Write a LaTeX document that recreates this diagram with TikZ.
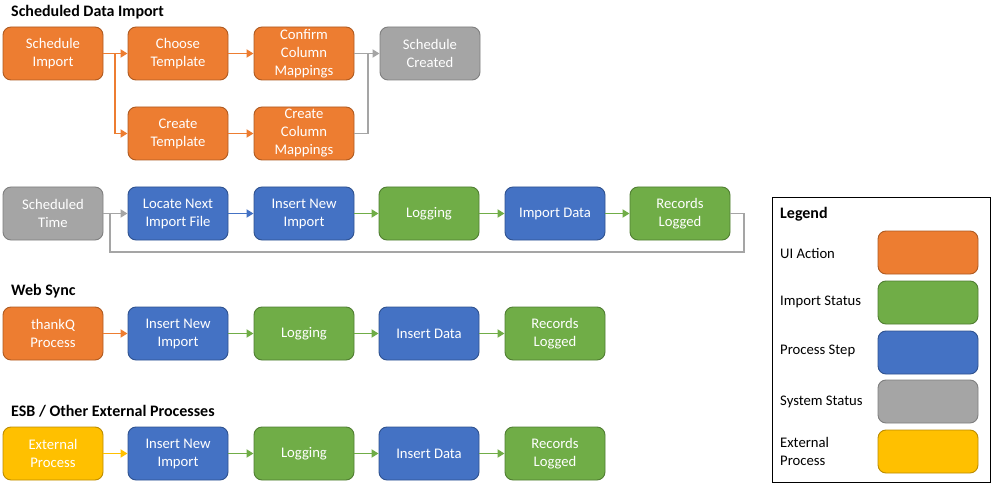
\documentclass[tikz,border=0pt]{standalone}
\usepackage{fontspec}
\setmainfont{Carlito}
\usetikzlibrary{arrows.meta}
\definecolor{uiO}{HTML}{ED7D31}
\definecolor{uiOb}{HTML}{AE5A21}
\definecolor{stG}{HTML}{70AD47}
\definecolor{stGb}{HTML}{507E32}
\definecolor{prB}{HTML}{4472C4}
\definecolor{prBb}{HTML}{2F528F}
\definecolor{syS}{HTML}{A5A5A5}
\definecolor{sySb}{HTML}{7F7F7F}
\definecolor{exY}{HTML}{FFC000}
\definecolor{exYb}{HTML}{BC8C00}
\begin{document}
\begin{tikzpicture}[x=1pt,y=-1pt,
  box/.style={rounded corners=8pt, minimum width=100pt, minimum height=53pt, inner sep=0pt,
    align=center, text=white, line width=0.9pt,
    font=\fontsize{14.67}{18}\selectfont},
  uibox/.style={box, fill=uiO, draw=uiOb},
  stbox/.style={box, fill=stG, draw=stGb},
  prbox/.style={box, fill=prB, draw=prBb},
  sybox/.style={box, fill=syS, draw=sySb},
  exbox/.style={box, fill=exY, draw=exYb},
  swatch/.style={minimum height=43pt},
  conn/.style={line width=1.8pt, -{Triangle[length=7pt,width=8pt]}},
  plain/.style={line width=1.8pt},
  ttl/.style={anchor=west, inner sep=0pt, font=\fontsize{16}{19}\selectfont\bfseries},
  lab/.style={anchor=west, inner sep=0pt, align=left, font=\fontsize{14.67}{18}\selectfont}]
\useasboundingbox (0,0) rectangle (994,484);

% Section 1
\node[ttl] (t1) at (11,12) {Scheduled Data Import};
\node[uibox] (si) at (53,53.5) {Schedule\\Import};
\node[uibox] (ct) at (178,53.5) {Choose\\Template};
\node[uibox] (cm) at (304,53.5) {Confirm\\Column\\Mappings};
\node[sybox] (sc) at (430,53.5) {Schedule\\Created};
\node[uibox] (crt) at (178,133.5) {Create\\Template};
\node[uibox] (ccm) at (304,133.5) {Create\\Column\\Mappings};
\coordinate (j1) at (115,53.5);
\coordinate (j2) at (368,53.5);
\draw[conn, uiO] (si.east) -- (ct.west);
\draw[conn, uiO] (j1) |- (crt.west);
\draw[conn, uiO] (ct.east) -- (cm.west);
\draw[conn, uiO] (crt.east) -- (ccm.west);
\draw[conn, syS] (cm.east) -- (sc.west);
\draw[plain, syS] (ccm.east) -| (j2);

% Section 2
\node[sybox] (st) at (53,213.5) {Scheduled\\Time};
\node[prbox] (ln) at (178,213.5) {Locate Next\\Import File};
\node[prbox] (ini) at (304,213.5) {Insert New\\Import};
\node[stbox] (lg) at (429,213.5) {Logging};
\node[prbox] (id) at (555,213.5) {Import Data};
\node[stbox] (rl) at (680,213.5) {Records\\Logged};
\coordinate (lr) at (744,252);
\coordinate (ll) at (110,252);
\draw[conn, syS] (st.east) -- (ln.west);
\draw[conn, prB] (ln.east) -- (ini.west);
\draw[conn, stG] (ini.east) -- (lg.west);
\draw[conn, stG] (lg.east) -- (id.west);
\draw[conn, stG] (id.east) -- (rl.west);
\draw[plain, syS] (rl.east) -| (lr) -- (ll) -- (110,213.5);

% Section 3
\node[ttl] (t3) at (11,291) {Web Sync};
\node[uibox] (tq) at (53,333.5) {thankQ\\Process};
\node[prbox] (wi) at (178,333.5) {Insert New\\Import};
\node[stbox] (wl) at (304,333.5) {Logging};
\node[prbox] (wd) at (429,333.5) {Insert Data};
\node[stbox] (wr) at (555,333.5) {Records\\Logged};
\draw[conn, uiO] (tq.east) -- (wi.west);
\draw[conn, stG] (wi.east) -- (wl.west);
\draw[conn, stG] (wl.east) -- (wd.west);
\draw[conn, stG] (wd.east) -- (wr.west);

% Section 4
\node[ttl] (t4) at (11,411) {ESB / Other External Processes};
\node[exbox] (ep) at (53,453.5) {External\\Process};
\node[prbox] (ei) at (178,453.5) {Insert New\\Import};
\node[stbox] (el) at (304,453.5) {Logging};
\node[prbox] (ed) at (429,453.5) {Insert Data};
\node[stbox] (er) at (555,453.5) {Records\\Logged};
\draw[conn, exY] (ep.east) -- (ei.west);
\draw[conn, stG] (ei.east) -- (el.west);
\draw[conn, stG] (el.east) -- (ed.west);
\draw[conn, stG] (ed.east) -- (er.west);

% Legend
\draw[line width=1pt] (772,198) rectangle (990,482);
\node[ttl] (lt) at (780,214) {Legend};
\node[uibox, swatch] (l1) at (928,252.5) {};
\node[stbox, swatch] (l2) at (928,302.5) {};
\node[prbox, swatch] (l3) at (928,352.5) {};
\node[sybox, swatch] (l4) at (928,401.5) {};
\node[exbox, swatch] (l5) at (928,451.5) {};
\node[lab] (lb1) at (780,253) {UI Action};
\node[lab] (lb2) at (780,302) {Import Status};
\node[lab] (lb3) at (780,351) {Process Step};
\node[lab] (lb4) at (780,402) {System Status};
\node[lab] (lb5) at (780,451) {External\\Process};
\end{tikzpicture}
\end{document}
